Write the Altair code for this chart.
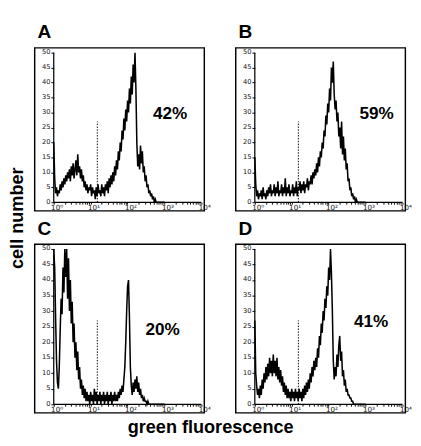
import altair as alt
import pandas as pd
import numpy as np

# ---------------- data ----------------
STEP = 0.025  # channel width, in decades of green fluorescence

counts_A = [20, 8, 3, 5, 2, 4, 3, 6, 4, 7, 5, 8, 6, 9, 7, 10, 8, 11, 7, 12,
            9, 13, 8, 11, 14, 9, 16, 10, 12, 8, 11, 7, 9, 5, 7, 4, 6, 3, 5, 4,
            6, 2, 5, 3, 4, 1, 5, 2, 6, 3, 4, 2, 6, 3, 5, 2, 6, 4, 7, 3,
            8, 5, 9, 6, 10, 7, 12, 9, 14, 11, 17, 14, 20, 17, 24, 21, 28, 24, 31, 27,
            34, 30, 38, 33, 42, 36, 46, 40, 50, 38, 20, 12, 16, 11, 19, 13, 17, 10, 12, 7,
            9, 5, 6, 3, 4, 2, 3, 1, 2, 0, 1, 0, 0, 0, 0, 0, 0, 0, 0, 0, 0]

counts_B = [15, 6, 2, 4, 1, 3, 2, 4, 1, 5, 2, 3, 1, 4, 2, 5, 3, 6, 2, 4,
            3, 6, 2, 5, 3, 7, 2, 4, 3, 6, 2, 5, 3, 8, 2, 5, 3, 6, 2, 4,
            3, 6, 2, 5, 3, 7, 2, 5, 4, 7, 3, 6, 4, 7, 3, 6, 5, 8, 4, 7,
            6, 9, 6, 10, 8, 11, 9, 13, 10, 15, 12, 17, 15, 20, 18, 24, 22, 29, 26, 33,
            30, 38, 34, 45, 40, 47, 36, 31, 34, 27, 30, 22, 25, 18, 27, 16, 22, 14, 18, 11,
            13, 7, 8, 4, 5, 2, 3, 1, 2, 0, 1, 0, 0, 0, 0, 0, 0, 0, 0, 0, 0]

counts_C = [50, 44, 28, 14, 7, 5, 12, 24, 34, 29, 44, 36, 50, 41, 50, 34, 47, 30, 40, 26,
            33, 20, 26, 15, 20, 11, 17, 8, 12, 5, 8, 3, 6, 2, 5, 1, 4, 1, 3, 0,
            4, 1, 3, 0, 5, 1, 4, 0, 3, 1, 4, 0, 3, 1, 4, 0, 3, 1, 4, 0,
            3, 1, 4, 0, 3, 1, 4, 1, 3, 1, 4, 2, 5, 3, 6, 4, 8, 12, 20, 30,
            38, 40, 28, 12, 6, 3, 7, 4, 8, 5, 9, 4, 7, 3, 5, 2, 3, 1, 2, 1,
            1, 0, 1, 0, 0, 0, 0, 0, 0, 0, 0, 0, 0, 0, 0, 0, 0, 0, 0, 0, 0]

counts_D = [27, 10, 6, 3, 5, 2, 6, 3, 8, 5, 10, 7, 12, 8, 13, 9, 15, 10, 14, 9,
            16, 10, 14, 9, 15, 8, 12, 7, 11, 6, 9, 4, 7, 3, 6, 2, 5, 2, 4, 1,
            5, 2, 4, 1, 5, 2, 4, 1, 5, 2, 4, 1, 5, 2, 6, 3, 7, 4, 8, 5,
            10, 7, 12, 9, 14, 11, 15, 12, 18, 15, 22, 19, 26, 23, 30, 27, 34, 31, 38, 35,
            44, 40, 50, 42, 30, 14, 8, 12, 9, 16, 12, 19, 22, 14, 17, 9, 11, 6, 8, 4,
            5, 3, 3, 2, 2, 1, 1, 0, 0, 0, 0, 0, 0, 0, 0, 0, 0, 0, 0, 0, 0]

panel_letters = ["A", "B", "C", "D"]
percent_labels = ["42%", "59%", "20%", "41%"]
percent_x = [3.15, 3.3, 2.95, 3.15]     # decades
percent_y = [29.5, 29.5, 24, 26.5]      # cell number
gate_position = 1.18                    # decades
gate_height = 27                        # cell number
y_ticks = list(range(0, 51, 5))
decades = [0, 1, 2, 3, 4]
y_max = 50

# ---------------- styling ----------------
FONT = "Liberation Sans"
TICKFONT = "DejaVu Sans"
W = 178
H_TOP = 171
H_BOT = 177
minor_ticks = sorted(set([round(float(np.log10(k * 10 ** d)), 6) for d in range(4) for k in range(1, 10)] + [4.0]))


def panel(counts, letter, pct, px, py, H):
    df = pd.DataFrame({"fl": [i * STEP for i in range(len(counts))], "n": counts})
    ppd = (W - 23) / 4.0
    ppu = (H - 14) / 50.0
    xsc = alt.Scale(domain=[-20 / ppd, 4 + 3 / ppd], nice=False, zero=False)
    ysc = alt.Scale(domain=[-9 / ppu, 50 + 5 / ppu], nice=False, zero=False)
    xax = alt.Axis(values=minor_ticks, domain=False, grid=False, offset=-9,
                   labelExpr="datum.value == round(datum.value) ? '10' + ['⁰','¹','²','³','⁴'][round(datum.value)] : ''",
                   tickSize=2, tickColor="black", tickWidth=1, labelFont=TICKFONT, labelFontSize=7.5,
                   labelColor="#111111", labelPadding=0, labelOffset=3, labelFlush=False,
                   labelOverlap=False, title=None)
    yax = alt.Axis(values=y_ticks, domain=False, grid=False, offset=-20, tickSize=3,
                   tickColor="black", labelFont=TICKFONT, labelFontSize=7, labelColor="#111111",
                   labelPadding=1, labelOffset=-1, labelFlush=False, labelOverlap=False, title=None)
    hist = alt.Chart(df).mark_line(color="black", strokeWidth=1.6).encode(
        x=alt.X("fl:Q", scale=xsc, axis=xax),
        y=alt.Y("n:Q", scale=ysc, axis=yax),
    )
    ax_df = pd.DataFrame({"x": [0, 0], "y": [0, 0], "x2": [0, decades[-1]], "y2": [y_max, 0]})
    axis_lines = alt.Chart(ax_df).mark_rule(color="black", strokeWidth=1.3).encode(
        x=alt.X("x:Q", scale=xsc, axis=xax), y=alt.Y("y:Q", scale=ysc, axis=yax),
        x2="x2:Q", y2="y2:Q")
    gate_df = pd.DataFrame({"x": [gate_position], "y": [0], "y2": [gate_height]})
    gate = alt.Chart(gate_df).mark_rule(color="black", strokeWidth=1, strokeDash=[1.5, 1.5]).encode(
        x=alt.X("x:Q", scale=xsc, axis=xax), y=alt.Y("y:Q", scale=ysc, axis=yax), y2="y2:Q")
    lab_df = pd.DataFrame({"x": [px], "y": [py], "t": [pct]})
    label = alt.Chart(lab_df).mark_text(font=FONT, fontSize=18, fontWeight="bold", color="black").encode(
        x=alt.X("x:Q", scale=xsc, axis=xax), y=alt.Y("y:Q", scale=ysc, axis=yax), text="t:N")
    return alt.layer(hist, axis_lines, gate, label).properties(
        width=W, height=H,
        title=alt.TitleParams(letter, anchor="start", fontSize=20, font=FONT, fontWeight="bold",
                              color="black", offset=6, dx=3),
    )


panels = []
all_counts = [counts_A, counts_B, counts_C, counts_D]
for i in range(4):
    panels.append(panel(all_counts[i], panel_letters[i], percent_labels[i], percent_x[i], percent_y[i],
                        H_TOP if i < 2 else H_BOT))

top = alt.hconcat(panels[0], panels[1], spacing=24)
bottom = alt.hconcat(panels[2], panels[3], spacing=24)
grid = alt.vconcat(top, bottom, spacing=6,
                   title=alt.TitleParams("cell number", orient="left", anchor="middle", fontSize=19,
                                         font=FONT, fontWeight="bold", color="black", offset=7))
chart = alt.vconcat(grid, title=alt.TitleParams("green fluorescence", orient="bottom", anchor="middle",
                                                fontSize=19, font=FONT, fontWeight="bold", color="black",
                                                offset=5)).configure_view(
    stroke="black", strokeWidth=1.5
).properties(padding={"left": 1, "top": 4, "right": 0, "bottom": 0}, background="white")

chart.save("out.html", embed_options={"renderer": "svg", "actions": False})
